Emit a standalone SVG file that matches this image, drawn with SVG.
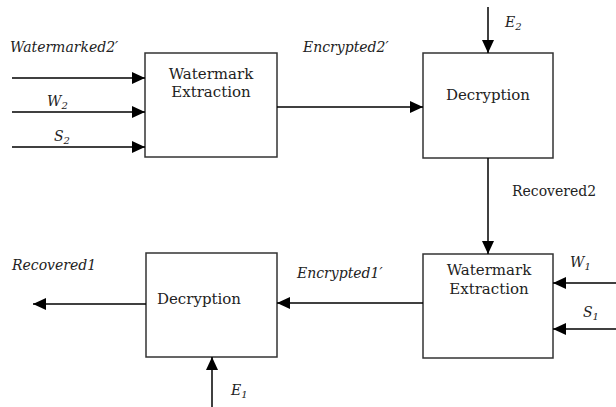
<svg xmlns="http://www.w3.org/2000/svg" width="616" height="407" viewBox="0 0 616 407">
  <defs>
    <marker id="arrow" markerUnits="userSpaceOnUse" markerWidth="14" markerHeight="12" refX="13" refY="6" orient="auto">
      <path d="M0,0 L13,6 L0,12 z" fill="#000"/>
    </marker>
    <style>
      .box { fill: #fff; stroke: #333; stroke-width: 1.5; }
      .link { fill: none; stroke: #000; stroke-width: 1.5; marker-end: url(#arrow); }
      .name { font-family: "DejaVu Serif", serif; font-size: 15px; fill: #222; text-anchor: middle; }
      .lbl { font-family: "DejaVu Serif", serif; font-size: 14px; fill: #222; font-style: italic; }
      .up { font-style: normal; }
      .sub { font-size: 10px; }
    </style>
  </defs>
  <rect width="616" height="407" fill="#fff"/>

  <!-- processing blocks -->
  <g id="extract2">
    <rect class="box" x="145" y="53" width="132" height="104"/>
    <text class="name" x="211" y="79">Watermark</text>
    <text class="name" x="211" y="97">Extraction</text>
  </g>
  <g id="decrypt2">
    <rect class="box" x="423" y="53" width="130" height="105"/>
    <text class="name" x="488" y="100">Decryption</text>
  </g>
  <g id="extract1">
    <rect class="box" x="423" y="254" width="130" height="104"/>
    <text class="name" x="489" y="275">Watermark</text>
    <text class="name" x="489" y="294">Extraction</text>
  </g>
  <g id="decrypt1">
    <rect class="box" x="146" y="253" width="131" height="104"/>
    <text class="name" x="199" y="304">Decryption</text>
  </g>

  <!-- connectors -->
  <g id="connectors">
    <line class="link" x1="12" y1="78" x2="145" y2="78"/>
    <line class="link" x1="12" y1="112" x2="145" y2="112"/>
    <line class="link" x1="12" y1="147" x2="145" y2="147"/>
    <line class="link" x1="277" y1="107" x2="423" y2="107"/>
    <line class="link" x1="488" y1="7" x2="488" y2="53"/>
    <line class="link" x1="488" y1="158" x2="488" y2="254"/>
    <line class="link" x1="616" y1="283" x2="553" y2="283"/>
    <line class="link" x1="616" y1="329" x2="553" y2="329"/>
    <line class="link" x1="423" y1="303" x2="277" y2="303"/>
    <line class="link" x1="212" y1="407" x2="212" y2="357"/>
    <line class="link" x1="146" y1="304" x2="33" y2="304"/>
  </g>

  <!-- signal labels -->
  <g id="labels">
    <text class="lbl" x="10" y="52">Watermarked2′</text>
    <text class="lbl" x="47" y="106">W<tspan class="sub" dy="3">2</tspan></text>
    <text class="lbl" x="54" y="141">S<tspan class="sub" dy="3">2</tspan></text>
    <text class="lbl" x="303" y="52">Encrypted2′</text>
    <text class="lbl" x="505" y="27">E<tspan class="sub" dy="3">2</tspan></text>
    <text class="lbl up" x="512" y="196">Recovered2</text>
    <text class="lbl" x="570" y="267">W<tspan class="sub" dy="3">1</tspan></text>
    <text class="lbl" x="583" y="317">S<tspan class="sub" dy="3">1</tspan></text>
    <text class="lbl" x="297" y="278">Encrypted1′</text>
    <text class="lbl" x="12" y="270">Recovered1</text>
    <text class="lbl" x="231" y="395">E<tspan class="sub" dy="3">1</tspan></text>
  </g>
</svg>
